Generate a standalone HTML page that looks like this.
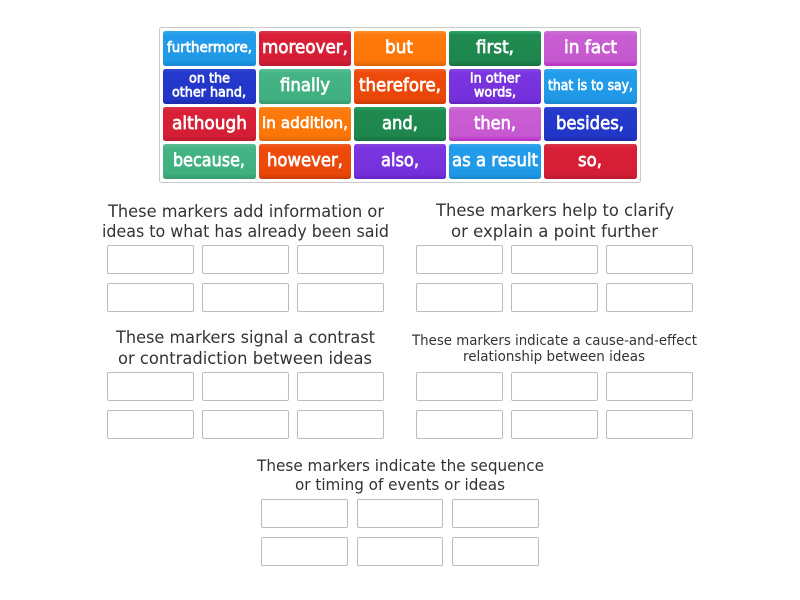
<!DOCTYPE html>
<html><head><meta charset="utf-8"><style>
html,body{margin:0;padding:0;background:#fff;width:800px;height:600px;overflow:hidden}
svg{display:block}
.t{font-family:"DejaVu Sans","Liberation Sans",sans-serif;font-weight:normal;fill:#fff;stroke:#fff;stroke-width:.7}
.h{font-family:"DejaVu Sans","Liberation Sans",sans-serif;fill:#333}
.b{fill:#fff;stroke:#bdbdbd;stroke-width:1}
</style></head><body>
<svg width="800" height="600" viewBox="0 0 800 600" xmlns="http://www.w3.org/2000/svg">
<defs>
<linearGradient id="blue" x1="0" y1="0" x2="0" y2="1"><stop offset="0" stop-color="#35a7ec"/><stop offset=".12" stop-color="#239ceb"/><stop offset=".85" stop-color="#1f98e6"/><stop offset="1" stop-color="#1a86cc"/></linearGradient>
<linearGradient id="red" x1="0" y1="0" x2="0" y2="1"><stop offset="0" stop-color="#d8384c"/><stop offset=".12" stop-color="#d91f36"/><stop offset=".85" stop-color="#d41e35"/><stop offset="1" stop-color="#b81a2e"/></linearGradient>
<linearGradient id="orange" x1="0" y1="0" x2="0" y2="1"><stop offset="0" stop-color="#ff8c2a"/><stop offset=".12" stop-color="#ff7a0a"/><stop offset=".85" stop-color="#fb7508"/><stop offset="1" stop-color="#d96406"/></linearGradient>
<linearGradient id="green" x1="0" y1="0" x2="0" y2="1"><stop offset="0" stop-color="#2aa866"/><stop offset=".12" stop-color="#1f8a50"/><stop offset=".85" stop-color="#1e864d"/><stop offset="1" stop-color="#197040"/></linearGradient>
<linearGradient id="purple" x1="0" y1="0" x2="0" y2="1"><stop offset="0" stop-color="#d070d8"/><stop offset=".12" stop-color="#c95fd2"/><stop offset=".85" stop-color="#c657d0"/><stop offset="1" stop-color="#b52fc4"/></linearGradient>
<linearGradient id="navy" x1="0" y1="0" x2="0" y2="1"><stop offset="0" stop-color="#3348d0"/><stop offset=".12" stop-color="#2438cc"/><stop offset=".85" stop-color="#2236c8"/><stop offset="1" stop-color="#1c2caa"/></linearGradient>
<linearGradient id="teal" x1="0" y1="0" x2="0" y2="1"><stop offset="0" stop-color="#5cc194"/><stop offset=".12" stop-color="#45b486"/><stop offset=".85" stop-color="#40b080"/><stop offset="1" stop-color="#369a70"/></linearGradient>
<linearGradient id="rust" x1="0" y1="0" x2="0" y2="1"><stop offset="0" stop-color="#f2602a"/><stop offset=".12" stop-color="#ee4a0c"/><stop offset=".85" stop-color="#ea4608"/><stop offset="1" stop-color="#c93c06"/></linearGradient>
<linearGradient id="violet" x1="0" y1="0" x2="0" y2="1"><stop offset="0" stop-color="#8748e0"/><stop offset=".12" stop-color="#7a35e0"/><stop offset=".85" stop-color="#7530dc"/><stop offset="1" stop-color="#6324c0"/></linearGradient>
</defs>

<rect x="159.5" y="27.5" width="481" height="155" rx="2" fill="#fff" stroke="#c8c8c8"/>

<rect x="163" y="31" width="93" height="35" rx="2.5" fill="url(#blue)"/>
<rect x="259" y="31" width="92" height="35" rx="2.5" fill="url(#red)"/>
<rect x="354" y="31" width="92" height="35" rx="2.5" fill="url(#orange)"/>
<rect x="449" y="31" width="92" height="35" rx="2.5" fill="url(#green)"/>
<rect x="544" y="31" width="93" height="35" rx="2.5" fill="url(#purple)"/>
<rect x="163" y="69" width="93" height="35" rx="2.5" fill="url(#navy)"/>
<rect x="259" y="69" width="92" height="35" rx="2.5" fill="url(#teal)"/>
<rect x="354" y="69" width="92" height="35" rx="2.5" fill="url(#rust)"/>
<rect x="449" y="69" width="92" height="35" rx="2.5" fill="url(#violet)"/>
<rect x="544" y="69" width="93" height="35" rx="2.5" fill="url(#blue)"/>
<rect x="163" y="107" width="93" height="34" rx="2.5" fill="url(#red)"/>
<rect x="259" y="107" width="92" height="34" rx="2.5" fill="url(#orange)"/>
<rect x="354" y="107" width="92" height="34" rx="2.5" fill="url(#green)"/>
<rect x="449" y="107" width="92" height="34" rx="2.5" fill="url(#purple)"/>
<rect x="544" y="107" width="93" height="34" rx="2.5" fill="url(#navy)"/>
<rect x="163" y="144" width="93" height="35" rx="2.5" fill="url(#teal)"/>
<rect x="259" y="144" width="92" height="35" rx="2.5" fill="url(#rust)"/>
<rect x="354" y="144" width="92" height="35" rx="2.5" fill="url(#violet)"/>
<rect x="449" y="144" width="92" height="35" rx="2.5" fill="url(#blue)"/>
<rect x="544" y="144" width="93" height="35" rx="2.5" fill="url(#red)"/>

<g class="t">
<text x="167" y="52" font-size="14" textLength="85" lengthAdjust="spacingAndGlyphs">furthermore,</text>
<text x="262" y="53" font-size="17.5" textLength="86" lengthAdjust="spacingAndGlyphs">moreover,</text>
<text x="385" y="53" font-size="17.5" textLength="28" lengthAdjust="spacingAndGlyphs">but</text>
<text x="476" y="53" font-size="17.5" textLength="38" lengthAdjust="spacingAndGlyphs">first,</text>
<text x="564" y="53" font-size="17.5" textLength="53" lengthAdjust="spacingAndGlyphs">in fact</text>

<text x="189" y="82.5" font-size="13.5" textLength="41" lengthAdjust="spacingAndGlyphs">on the</text>
<text x="172" y="96.5" font-size="13.5" textLength="74" lengthAdjust="spacingAndGlyphs">other hand,</text>
<text x="280" y="91" font-size="17.5" textLength="50" lengthAdjust="spacingAndGlyphs">finally</text>
<text x="359" y="91" font-size="17.5" textLength="82" lengthAdjust="spacingAndGlyphs">therefore,</text>
<text x="470" y="82.5" font-size="13.5" textLength="50" lengthAdjust="spacingAndGlyphs">in other</text>
<text x="474" y="96.5" font-size="13.5" textLength="42" lengthAdjust="spacingAndGlyphs">words,</text>
<text x="548" y="90" font-size="14" textLength="85" lengthAdjust="spacingAndGlyphs">that is to say,</text>

<text x="172" y="129" font-size="17.5" textLength="75" lengthAdjust="spacingAndGlyphs">although</text>
<text x="262" y="128" font-size="15" textLength="86" lengthAdjust="spacingAndGlyphs">in addition,</text>
<text x="382" y="129" font-size="17.5" textLength="36" lengthAdjust="spacingAndGlyphs">and,</text>
<text x="474" y="129" font-size="17.5" textLength="42" lengthAdjust="spacingAndGlyphs">then,</text>
<text x="556" y="129" font-size="17.5" textLength="68" lengthAdjust="spacingAndGlyphs">besides,</text>

<text x="173" y="166" font-size="17.5" textLength="72" lengthAdjust="spacingAndGlyphs">because,</text>
<text x="267" y="166" font-size="17.5" textLength="76" lengthAdjust="spacingAndGlyphs">however,</text>
<text x="381" y="166" font-size="17.5" textLength="38" lengthAdjust="spacingAndGlyphs">also,</text>
<text x="452" y="166" font-size="17.5" textLength="86" lengthAdjust="spacingAndGlyphs">as a result</text>
<text x="578" y="166" font-size="17.5" textLength="24" lengthAdjust="spacingAndGlyphs">so,</text>
</g>

<g class="h">
<text x="108" y="217" font-size="17" textLength="276" lengthAdjust="spacingAndGlyphs">These markers add information or</text>
<text x="102" y="237" font-size="17" textLength="287" lengthAdjust="spacingAndGlyphs">ideas to what has already been said</text>
<text x="436" y="216" font-size="17" textLength="238" lengthAdjust="spacingAndGlyphs">These markers help to clarify</text>
<text x="451" y="237" font-size="17" textLength="207" lengthAdjust="spacingAndGlyphs">or explain a point further</text>
<text x="116" y="343" font-size="17" textLength="259" lengthAdjust="spacingAndGlyphs">These markers signal a contrast</text>
<text x="118" y="364" font-size="17" textLength="254" lengthAdjust="spacingAndGlyphs">or contradiction between ideas</text>
<text x="412" y="345" font-size="14.5" textLength="285" lengthAdjust="spacingAndGlyphs">These markers indicate a cause-and-effect</text>
<text x="463" y="361" font-size="14.5" textLength="182" lengthAdjust="spacingAndGlyphs">relationship between ideas</text>
<text x="257" y="471" font-size="16" textLength="287" lengthAdjust="spacingAndGlyphs">These markers indicate the sequence</text>
<text x="295" y="490" font-size="16" textLength="210" lengthAdjust="spacingAndGlyphs">or timing of events or ideas</text>
</g>

<g class="b">
<rect x="107.5" y="245.5" width="86" height="28" rx="1.5"/><rect x="202.5" y="245.5" width="86" height="28" rx="1.5"/><rect x="297.5" y="245.5" width="86" height="28" rx="1.5"/>
<rect x="107.5" y="283.5" width="86" height="28" rx="1.5"/><rect x="202.5" y="283.5" width="86" height="28" rx="1.5"/><rect x="297.5" y="283.5" width="86" height="28" rx="1.5"/>
<rect x="416.5" y="245.5" width="86" height="28" rx="1.5"/><rect x="511.5" y="245.5" width="86" height="28" rx="1.5"/><rect x="606.5" y="245.5" width="86" height="28" rx="1.5"/>
<rect x="416.5" y="283.5" width="86" height="28" rx="1.5"/><rect x="511.5" y="283.5" width="86" height="28" rx="1.5"/><rect x="606.5" y="283.5" width="86" height="28" rx="1.5"/>
<rect x="107.5" y="372.5" width="86" height="28" rx="1.5"/><rect x="202.5" y="372.5" width="86" height="28" rx="1.5"/><rect x="297.5" y="372.5" width="86" height="28" rx="1.5"/>
<rect x="107.5" y="410.5" width="86" height="28" rx="1.5"/><rect x="202.5" y="410.5" width="86" height="28" rx="1.5"/><rect x="297.5" y="410.5" width="86" height="28" rx="1.5"/>
<rect x="416.5" y="372.5" width="86" height="28" rx="1.5"/><rect x="511.5" y="372.5" width="86" height="28" rx="1.5"/><rect x="606.5" y="372.5" width="86" height="28" rx="1.5"/>
<rect x="416.5" y="410.5" width="86" height="28" rx="1.5"/><rect x="511.5" y="410.5" width="86" height="28" rx="1.5"/><rect x="606.5" y="410.5" width="86" height="28" rx="1.5"/>
<rect x="261.5" y="499.5" width="86" height="28" rx="1.5"/><rect x="357.5" y="499.5" width="85" height="28" rx="1.5"/><rect x="452.5" y="499.5" width="86" height="28" rx="1.5"/>
<rect x="261.5" y="537.5" width="86" height="28" rx="1.5"/><rect x="357.5" y="537.5" width="85" height="28" rx="1.5"/><rect x="452.5" y="537.5" width="86" height="28" rx="1.5"/>
</g>
</svg>
</body></html>
